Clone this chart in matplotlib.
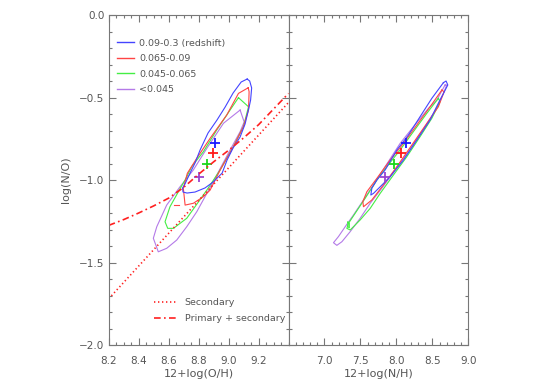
import matplotlib
matplotlib.use('Agg')
import matplotlib.pyplot as plt
from matplotlib.ticker import MultipleLocator, FixedLocator
from matplotlib.lines import Line2D

# ---------------- data ----------------
labels = ['0.09-0.3 (redshift)', '0.065-0.09', '0.045-0.065', '<0.045']
line_colors = ['#4444ff', '#ff4444', '#44ee44', '#b47ae8']
cross_colors = ['#1a1aff', '#ff1a1a', '#1ad81a', '#9a44d0']

# left panel contours: 12+log(O/H) vs log(N/O)
blue_oh = [9.124, 9.141, 9.154, 9.147, 9.137, 9.110, 9.077, 9.030, 8.990, 8.957, 8.897, 8.843,
           8.776, 8.723, 8.696, 8.693, 8.706, 8.743, 8.776, 8.810, 8.863, 8.923, 8.977, 9.030, 9.084]
blue_no = [-0.388, -0.400, -0.442, -0.515, -0.558, -0.661, -0.739, -0.806, -0.879, -0.958, -1.012, -1.048,
           -1.073, -1.079, -1.073, -1.048, -1.030, -0.958, -0.897, -0.818, -0.715, -0.636, -0.558, -0.473, -0.406]
red_oh = [9.131, 9.066, 8.988, 8.877, 8.788, 8.725, 8.698, 8.710, 8.765, 8.832, 8.877, 8.944, 9.032, 9.099, 9.133, 9.137]
red_no = [-0.441, -0.475, -0.606, -0.747, -0.868, -0.959, -1.050, -1.152, -1.141, -1.101, -1.061, -0.939,
          -0.798, -0.677, -0.576, -0.465]
red_bit_oh = [8.636, 8.672]
red_bit_no = [-1.152, -1.152]
green_oh = [9.066, 9.133, 9.099, 9.032, 8.944, 8.855, 8.776, 8.721, 8.632, 8.594, 8.576, 8.609, 8.665,
            8.710, 8.754, 8.832, 8.921, 9.010]
green_no = [-0.501, -0.556, -0.677, -0.798, -0.939, -1.061, -1.162, -1.232, -1.293, -1.293, -1.253, -1.162,
            -1.071, -1.000, -0.919, -0.828, -0.697, -0.576]
purple_oh = [9.077, 9.104, 9.077, 9.010, 8.921, 8.855, 8.788, 8.721, 8.654, 8.587, 8.531, 8.498, 8.521,
             8.587, 8.676, 8.765, 8.855, 8.966]
purple_no = [-0.576, -0.648, -0.707, -0.818, -0.970, -1.081, -1.192, -1.283, -1.364, -1.414, -1.435, -1.353,
             -1.283, -1.152, -1.041, -0.939, -0.808, -0.656]

# right panel contours: 12+log(N/H) vs log(N/O)
blue_nh = [8.653, 8.492, 8.329, 8.167, 8.006, 7.843, 7.728, 7.658, 7.644, 7.681, 7.774, 7.913, 8.097,
           8.283, 8.468, 8.607, 8.714, 8.690]
blue_no2 = [-0.410, -0.505, -0.616, -0.727, -0.818, -0.939, -1.000, -1.050, -1.091, -1.081, -1.041, -0.980,
            -0.879, -0.758, -0.636, -0.515, -0.424, -0.400]
red_nh = [8.631, 8.468, 8.283, 8.097, 7.913, 7.728, 7.589, 7.533, 7.542, 7.658, 7.819, 8.006, 8.214,
          8.422, 8.583, 8.663]
red_no2 = [-0.455, -0.556, -0.667, -0.778, -0.879, -0.990, -1.071, -1.131, -1.162, -1.121, -1.030, -0.919,
           -0.788, -0.657, -0.556, -0.465]
green_nh = [8.583, 8.422, 8.236, 8.051, 7.867, 7.728, 7.565, 7.426, 7.333, 7.311, 7.357, 7.496, 7.635,
            7.774, 7.958, 8.144, 8.329, 8.492, 8.607]
green_no2 = [-0.505, -0.596, -0.707, -0.818, -0.919, -1.000, -1.111, -1.202, -1.263, -1.293, -1.303, -1.242,
             -1.172, -1.081, -0.970, -0.859, -0.737, -0.626, -0.525]
green_bit_nh = [7.325, 7.345, 7.345, 7.325, 7.325]
green_bit_no = [-1.255, -1.262, -1.290, -1.283, -1.255]
purple_nh = [8.676, 8.561, 8.444, 8.236, 8.051, 7.843, 7.681, 7.542, 7.403, 7.288, 7.194, 7.125, 7.172,
             7.242, 7.357, 7.496, 7.635, 7.797, 7.982, 8.167, 8.353, 8.514, 8.653, 8.700]
purple_no2 = [-0.424, -0.515, -0.566, -0.677, -0.778, -0.919, -1.030, -1.121, -1.212, -1.283, -1.343, -1.380,
              -1.396, -1.374, -1.313, -1.232, -1.141, -1.050, -0.939, -0.828, -0.707, -0.596, -0.475, -0.424]

# median positions (crosses)
cross_oh = [8.909, 8.899, 8.859, 8.806]
cross_nh = [8.135, 8.066, 7.960, 7.840]
cross_no = [-0.774, -0.835, -0.903, -0.984]

# model lines
sec_oh = [8.2, 9.4]
sec_no = [-1.72, -0.53]
ps_oh = [8.2, 8.3, 8.4, 8.5, 8.6, 8.7, 8.8, 8.9, 9.0, 9.1, 9.2, 9.3, 9.4]
ps_no = [-1.275, -1.24, -1.20, -1.157, -1.11, -1.045, -0.965, -0.89, -0.82, -0.745, -0.665, -0.57, -0.475]

left_xticks = [8.2, 8.4, 8.6, 8.8, 9.0, 9.2]
right_xticks = [7.0, 7.5, 8.0, 8.5, 9.0]
yticks = [0.0, -0.5, -1.0, -1.5, -2.0]
ytick_labels = ['0.0', '\u22120.5', '\u22121.0', '\u22121.5', '\u22122.0']

# ---------------- figure ----------------
TXT = '#555555'
SP = '#777777'
fig = plt.figure(figsize=(5.45, 3.89), dpi=100)
L, R, B, T = 0.1994, 0.8594, 0.1131, 0.9614
W = (R - L) / 2
ax1 = fig.add_axes([L, B, W, T - B])
ax2 = fig.add_axes([L + W, B, W, T - B])

lw = 0.8
left_sets = [(blue_oh, blue_no), (red_oh, red_no), (green_oh, green_no), (purple_oh, purple_no)]
right_sets = [(blue_nh, blue_no2), (red_nh, red_no2), (green_nh, green_no2), (purple_nh, purple_no2)]
for i in [3, 2, 1, 0]:
    xs, ys = left_sets[i]
    ax1.plot(list(xs) + [xs[0]], list(ys) + [ys[0]], color=line_colors[i], lw=lw)
    xs, ys = right_sets[i]
    ax2.plot(list(xs) + [xs[0]], list(ys) + [ys[0]], color=line_colors[i], lw=lw)
ax1.plot(red_bit_oh, red_bit_no, color=line_colors[1], lw=lw)
ax2.plot(green_bit_nh, green_bit_no, color=line_colors[2], lw=lw)

for i in range(4):
    ax1.plot(cross_oh[i], cross_no[i], marker='+', ms=7, mew=1.3, color=cross_colors[i], ls='none')
    ax2.plot(cross_nh[i], cross_no[i], marker='+', ms=7, mew=1.3, color=cross_colors[i], ls='none')

ax1.plot(sec_oh, sec_no, color='#ff2020', lw=1.2, ls=(0, (0.8, 1.6)))
ax1.plot(ps_oh, ps_no, color='#ff2020', lw=1.2, ls=(0, (4, 2, 1, 2)))

for ax in (ax1, ax2):
    ax.set_ylim(-2.0, 0.0)
    ax.yaxis.set_major_locator(FixedLocator(yticks))
    ax.yaxis.set_minor_locator(MultipleLocator(0.1))
    ax.tick_params(which='both', direction='in', top=True, right=True, colors=SP,
                   labelcolor=TXT, labelsize=7.5, width=0.8)
    ax.tick_params(which='major', length=5)
    ax.tick_params(which='minor', length=2.5)
    ax.tick_params(axis='x', pad=8)
    ax.tick_params(axis='y', pad=3)
    for s in ax.spines.values():
        s.set_color(SP)
        s.set_linewidth(0.8)

ax1.set_xlim(8.2, 9.4)
ax1.xaxis.set_major_locator(FixedLocator(left_xticks))
ax1.xaxis.set_minor_locator(MultipleLocator(0.05))
ax1.set_xticklabels(['%.1f' % v for v in left_xticks])
ax1.set_yticklabels(ytick_labels)

ax2.set_xlim(6.5, 9.0)
ax2.xaxis.set_major_locator(FixedLocator(right_xticks))
ax2.xaxis.set_minor_locator(MultipleLocator(0.1))
ax2.set_xticklabels(['%.1f' % v for v in right_xticks])
ax2.tick_params(axis='y', labelleft=False)

ax1.set_xlabel('12+log(O/H)', fontsize=8, color=TXT, labelpad=2)
ax2.set_xlabel('12+log(N/H)', fontsize=8, color=TXT, labelpad=2)
ax1.set_ylabel('log(N/O)', fontsize=8, color=TXT, labelpad=6)

h1 = [Line2D([], [], color=line_colors[i], lw=1.0) for i in range(4)]
leg1 = ax1.legend(h1, labels, loc='upper left', bbox_to_anchor=(0.045, 0.928), frameon=False,
                  fontsize=6.8, handlelength=1.8, handletextpad=0.55, labelspacing=0.68,
                  borderpad=0, borderaxespad=0, labelcolor=TXT)
ax1.add_artist(leg1)
h2 = [Line2D([], [], color='#ff2020', lw=1.2, ls=(0, (0.8, 1.6))),
      Line2D([], [], color='#ff2020', lw=1.2, ls=(0, (4, 2, 1, 2)))]
ax1.legend(h2, ['Secondary', 'Primary + secondary'], loc='upper left', bbox_to_anchor=(0.25, 0.142),
           frameon=False, fontsize=6.8, handlelength=2.4, handletextpad=0.9, labelspacing=0.76,
           borderpad=0, borderaxespad=0, labelcolor=TXT)

fig.savefig('out.png', dpi=100)
